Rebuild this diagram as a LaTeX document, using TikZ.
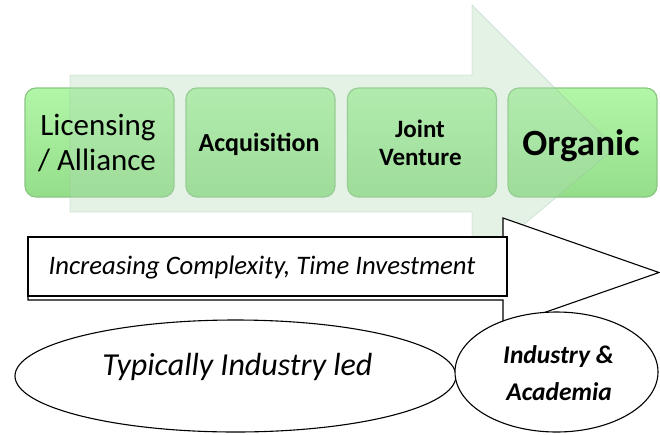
\documentclass[tikz,border=0pt]{standalone}
\usepackage{fontspec}
\setmainfont{Carlito}
\usetikzlibrary{shapes.geometric}
\definecolor{bgarrow}{RGB}{178,218,184}
\definecolor{bgedge}{RGB}{150,190,156}
\definecolor{bxtop}{RGB}{178,246,168}
\definecolor{bxbot}{RGB}{148,222,138}
\definecolor{bxline}{RGB}{138,198,130}
\tikzset{
  gbox/.style={rectangle, rounded corners=11pt, minimum width=149pt, minimum height=109pt,
    top color=bxtop, bottom color=bxbot, draw=bxline, line width=1.2pt, inner sep=0pt},
  bgarrowstyle/.style={fill=bgarrow, fill opacity=0.35, draw=bgedge, draw opacity=0.35, line width=0.8pt},
  lowarrow/.style={fill=white, draw=black, line width=1.1pt, line join=miter},
  tbox/.style={rectangle, draw=black, fill=white, line width=1.4pt, minimum width=479pt, minimum height=59pt, inner sep=0pt},
  ell/.style={ellipse, draw=black, fill=white, line width=1.1pt, inner sep=0pt},
  lbl/.style={anchor=base, inner sep=0pt, text=black},
}
\begin{document}
\begin{tikzpicture}[x=1pt,y=-1pt]
\useasboundingbox (0,0) rectangle (660,434);
% green step boxes
\node[gbox] (b1) at (99.5,142.5) {};
\node[gbox] (b2) at (260.5,142.5) {};
\node[gbox] (b3) at (422,142.5) {};
\node[gbox] (b4) at (582.5,142.5) {};
% faint background arrow
\draw[bgarrowstyle] (70,75) -- (472,75) -- (472,5) -- (615,148) -- (472,268) -- (472,212) -- (70,212) -- cycle;
% box labels
\node[lbl, font=\fontsize{31}{31}\selectfont] (t1a) at (98,135) {Licensing};
\node[lbl, font=\fontsize{31}{31}\selectfont] (t1b) at (97,170) {/ Alliance};
\node[lbl, font=\bfseries\fontsize{26}{26}\selectfont] (t2) at (259,151) {Acquisition};
\node[lbl, font=\bfseries\fontsize{25}{25}\selectfont] (t3a) at (420,137.3) {Joint};
\node[lbl, font=\bfseries\fontsize{25}{25}\selectfont] (t3b) at (420.3,165.7) {Venture};
\node[lbl, font=\bfseries\fontsize{37}{37}\selectfont] (t4) at (581,155) {Organic};
% lower white arrow
\coordinate (la1) at (28,237);
\coordinate (la2) at (503,237);
\coordinate (la3) at (503,218);
\coordinate (tip) at (659,272.5);
\coordinate (la4) at (503,327);
\coordinate (la5) at (503,300);
\coordinate (la6) at (28,300);
\draw[lowarrow] (la1) -- (la2) -- (la3) -- (tip) -- (la4) -- (la5) -- (la6) -- cycle;
\node[tbox] (tb) at (267.5,266.5) {};
\node[lbl, font=\itshape\fontsize{26.7}{26.7}\selectfont] (tbt) at (262,274) {Increasing Complexity, Time Investment};
% ellipses
\node[ell, minimum width=441pt, minimum height=112pt] (e1) at (235.5,376) {};
\node[ell, minimum width=203pt, minimum height=120pt] (e2) at (556.5,372) {};
\node[lbl, font=\itshape\fontsize{32}{32}\selectfont] (e1t) at (237.5,375) {Typically Industry led};
\node[lbl, font=\bfseries\itshape\fontsize{25.5}{25.5}\selectfont] (e2a) at (558.5,363) {Industry \&};
\node[lbl, font=\bfseries\itshape\fontsize{25.5}{25.5}\selectfont] (e2b) at (559,400) {Academia};
\end{tikzpicture}
\end{document}
